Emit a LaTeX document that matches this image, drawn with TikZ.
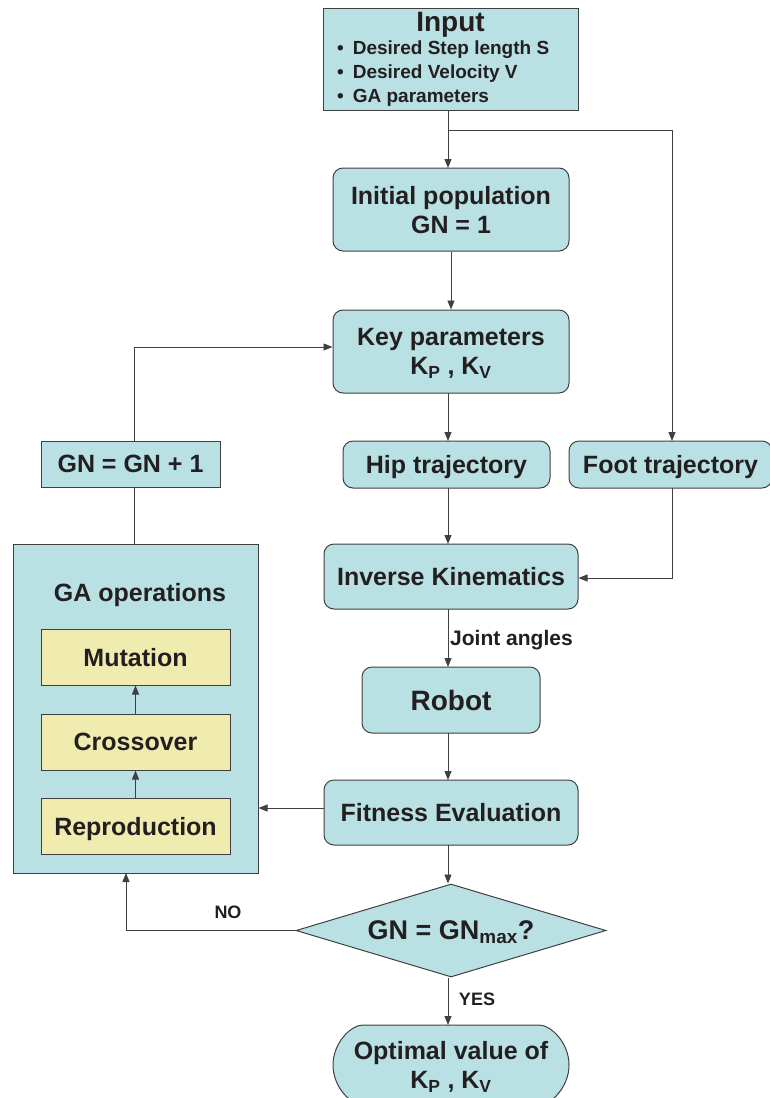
\documentclass[tikz,border=0pt]{standalone}
\usepackage{fontspec}
\setmainfont{Liberation Sans}
\usetikzlibrary{shapes.geometric,shapes.misc,arrows.meta}
\definecolor{boxfill}{RGB}{185,224,227}
\definecolor{yel}{RGB}{240,236,176}
\definecolor{edge}{RGB}{64,64,64}
\definecolor{txt}{RGB}{35,31,32}
\tikzset{
  box/.style={draw=edge,line width=1pt,fill=boxfill,inner sep=0pt,text=txt,font=\bfseries\fontsize{25}{29}\selectfont,align=center,text depth=0pt},
  rbox/.style={box,rounded corners=10pt},
  ybox/.style={box,fill=yel},
  lbl/.style={text=txt,font=\bfseries,inner sep=0pt},
  conn/.style={draw=edge,line width=0.9pt},
  arr/.style={conn,-{Triangle[length=9pt,width=7pt]}},
}
\begin{document}
\begin{tikzpicture}[x=1pt,y=-1pt]
\useasboundingbox (0,0) rectangle (770,1098);
% Input
\node[box,minimum width=255pt,minimum height=102pt] (input) at (450.5,59) {};
\node[lbl,font=\bfseries\fontsize{28}{32}\selectfont] (intitle) at (450.5,25) {Input};
\node[lbl,anchor=west,font=\bfseries\fontsize{19}{22}\selectfont] (b1) at (337,50) {\textbullet\hspace{9pt}Desired Step length S};
\node[lbl,anchor=west,font=\bfseries\fontsize{19}{22}\selectfont] (b2) at (337,74) {\textbullet\hspace{9pt}Desired Velocity V};
\node[lbl,anchor=west,font=\bfseries\fontsize{19}{22}\selectfont] (b3) at (337,98) {\textbullet\hspace{9pt}GA parameters};
% main column
\node[rbox,minimum width=236pt,minimum height=83pt] (init) at (451,209.5) {Initial population\\GN = 1};
\node[rbox,minimum width=236pt,minimum height=83pt] (key) at (451,351.5) {Key parameters\\K\textsubscript{P} , K\textsubscript{V}};
\node[rbox,minimum width=207pt,minimum height=47pt] (hip) at (446.5,464.5) {Hip trajectory};
\node[rbox,minimum width=203pt,minimum height=47pt] (foot) at (670.5,464.5) {Foot trajectory};
\node[box,minimum width=179pt,minimum height=46pt] (gninc) at (130.5,464) {GN = GN + 1};
\node[rbox,minimum width=254pt,minimum height=65pt] (ik) at (451,576.5) {Inverse Kinematics};
\node[rbox,minimum width=178pt,minimum height=66pt,font=\bfseries\fontsize{28}{32}\selectfont] (robot) at (451,700) {Robot};
\node[rbox,minimum width=254pt,minimum height=65pt] (fit) at (451,812.5) {Fitness Evaluation};
\node[diamond,draw=edge,line width=1pt,fill=boxfill,aspect=3.33,minimum width=310pt,minimum height=93pt,inner sep=0pt] (dec) at (451,930.5) {};
\node[lbl,font=\bfseries\fontsize{27}{31}\selectfont] (dectxt) at (451,932) {GN = GN\textsubscript{max}?};
\node[rbox,rounded rectangle,minimum width=236pt,minimum height=80pt] (opt) at (451,1065) {Optimal value of\\K\textsubscript{P} , K\textsubscript{V}};
% GA operations
\node[box,minimum width=245pt,minimum height=329pt] (ga) at (135.5,708.5) {};
\node[lbl,font=\bfseries\fontsize{25}{29}\selectfont] (gatitle) at (140,595) {GA operations};
\node[ybox,minimum width=189pt,minimum height=56pt] (mut) at (135.5,657) {Mutation};
\node[ybox,minimum width=189pt,minimum height=56pt] (cross) at (135.5,742) {Crossover};
\node[ybox,minimum width=189pt,minimum height=56pt] (repro) at (135.5,826.5) {Reproduction};
% labels
\node[lbl,anchor=west,font=\bfseries\fontsize{21}{24}\selectfont] (ja) at (450,640) {Joint angles};
\node[lbl,font=\bfseries\fontsize{18}{21}\selectfont] (no) at (228,912) {NO};
\node[lbl,font=\bfseries\fontsize{18}{21}\selectfont] (yes) at (477,999) {YES};
% connectors
\coordinate (split) at (448,130);
\coordinate (fturn) at (672,130);
\draw[conn] (448,110) -- (split);
\draw[arr] (split) -- (448,168);
\draw[arr] (split) -- (fturn) -- (672,441);
\draw[arr] (init.south) -- (key.north);
\draw[arr] (448,393) -- (448,441);
\draw[arr] (448,488) -- (448,544);
\coordinate (fdown) at (672,578);
\draw[arr] (672,488) -- (fdown) -- (ik.east |- fdown);
\draw[arr] (448,609) -- (448,667);
\draw[arr] (448,733) -- (448,780);
\draw[arr] (448,845) -- (dec.north -| 448,0);
\draw[arr] (fit.west |- 0,808) -- (ga.east |- 0,808);
\draw[arr] (dec.west) -- (126,930.5) -- (126,873);
\draw[arr] (dec.south -| 448,0) -- (448,1025);
\draw[conn] (gninc.south -| 134,0) -- (ga.north -| 134,0);
\draw[arr] (gninc.north -| 134,0) -- (134,347) -- (key.west |- 0,347);
\draw[arr] (repro.north) -- (cross.south);
\draw[arr] (cross.north) -- (mut.south);
\end{tikzpicture}
\end{document}
